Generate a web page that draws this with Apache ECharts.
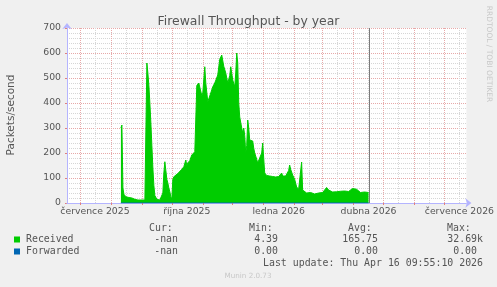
<!DOCTYPE html>
<html><head><meta charset="utf-8">
<script src="https://cdn.jsdelivr.net/npm/echarts@6/dist/echarts.min.js"></script>
<style>html,body{margin:0;padding:0;background:#f0f0f0}#c{width:497px;height:287px}</style>
</head><body><div id="c"></div>
<script>
// ---- data ----
const dates = ['2025-08-11','2025-08-12','2025-08-13','2025-08-14','2025-08-16','2025-08-19','2025-08-22','2025-08-25','2025-08-28','2025-08-31',
'2025-09-04','2025-09-05','2025-09-06','2025-09-07','2025-09-08','2025-09-09','2025-09-10','2025-09-11','2025-09-12','2025-09-13','2025-09-14','2025-09-16','2025-09-19','2025-09-21','2025-09-22','2025-09-23','2025-09-24','2025-09-25','2025-09-26','2025-09-27','2025-09-28','2025-09-29','2025-09-30',
'2025-10-01','2025-10-02','2025-10-03','2025-10-05','2025-10-07','2025-10-09','2025-10-11','2025-10-13','2025-10-15','2025-10-16','2025-10-17','2025-10-19','2025-10-21','2025-10-23','2025-10-24','2025-10-25','2025-10-26','2025-10-28','2025-10-29','2025-10-31',
'2025-11-01','2025-11-03','2025-11-04','2025-11-06','2025-11-07','2025-11-09','2025-11-11','2025-11-13','2025-11-16','2025-11-18','2025-11-20','2025-11-22','2025-11-24','2025-11-26','2025-11-28','2025-11-29',
'2025-12-01','2025-12-03','2025-12-04','2025-12-05','2025-12-06','2025-12-07','2025-12-08','2025-12-10','2025-12-11','2025-12-12','2025-12-13','2025-12-14','2025-12-15','2025-12-16','2025-12-17','2025-12-18','2025-12-20','2025-12-21','2025-12-22','2025-12-23','2025-12-25','2025-12-26','2025-12-28','2025-12-30','2025-12-31',
'2026-01-01','2026-01-02','2026-01-04','2026-01-07','2026-01-10','2026-01-13','2026-01-16','2026-01-18','2026-01-19','2026-01-20','2026-01-23','2026-01-25','2026-01-26','2026-01-27','2026-01-28','2026-01-30',
'2026-02-01','2026-02-03','2026-02-05','2026-02-07','2026-02-08','2026-02-09','2026-02-11','2026-02-13','2026-02-15','2026-02-17','2026-02-19','2026-02-21','2026-02-23','2026-02-25','2026-02-27',
'2026-03-01','2026-03-03','2026-03-05','2026-03-07','2026-03-09','2026-03-11','2026-03-13','2026-03-15','2026-03-17','2026-03-19','2026-03-21','2026-03-23','2026-03-25','2026-03-27','2026-03-29','2026-03-31',
'2026-04-02','2026-04-04','2026-04-06','2026-04-08','2026-04-10','2026-04-12','2026-04-14','2026-04-16'];
const received = [300,312,60,35,25,22,20,15,12,12,
12,15,560,520,470,400,320,230,140,70,30,15,12,12,40,120,165,130,95,80,60,45,25,
15,95,105,108,118,125,135,145,172,150,160,170,192,185,205,200,470,480,485,430,
440,545,480,405,400,440,465,480,512,575,592,547,520,480,510,545,
492,465,520,600,560,400,344,300,280,300,270,200,230,332,300,252,250,248,220,200,175,160,180,200,240,
180,120,110,108,106,104,106,110,120,108,108,110,130,152,135,112,
95,64,55,55,164,52,45,40,38,42,40,36,44,40,38,
42,48,62,52,50,44,48,45,50,47,45,48,44,46,50,58,
64,55,50,42,40,44,38,42];
const forwardedDates = ['2025-08-11','2026-04-16'];
const forwarded = [0, 0];

const xStart = '2025-06-18';
const xEnd = '2026-07-23';
const nowTime = '2026-04-16T09:55';
const monthStarts = ['2025-07-01','2025-08-01','2025-09-01','2025-10-01','2025-11-01','2025-12-01','2026-01-01','2026-02-01','2026-03-01','2026-04-01','2026-05-01','2026-06-01','2026-07-01'];
const midMonths = ['2025-07-16','2025-08-16','2025-09-16','2025-10-16','2025-11-16','2025-12-16','2026-01-16','2026-02-16','2026-03-16','2026-04-16','2026-05-16','2026-06-16','2026-07-16'];
const xLabelDates = ['2025-07-16','2025-10-16','2026-01-16','2026-04-16','2026-07-16'];
const xLabels = ['července 2025','října 2025','ledna 2026','dubna 2026','července 2026'];

const seriesNames = ['Received','Forwarded'];
const seriesColors = ['#00cc00','#0066b3'];
const statCur = ['-nan','-nan'];
const statMin = ['4.39','0.00'];
const statAvg = ['165.75','0.00'];
const statMax = ['32.69k','0.00'];
const lastUpdate = 'Last update: Thu Apr 16 09:55:10 2026';
const footer = 'Munin 2.0.73';
const watermark = 'RRDTOOL / TOBI OETIKER';
const titleText = 'Firewall Throughput - by year';
const yName = 'Packets/second';

// ---- helpers ----
function toTs(s) {
  const [d, t] = s.split('T');
  const [y, m, dd] = d.split('-').map(Number);
  let hh = 0, mm = 0;
  if (t) { [hh, mm] = t.split(':').map(Number); }
  return new Date(y, m - 1, dd, hh, mm).getTime();
}
const DAY = 86400000;
const labelTs = xLabelDates.map(toTs);

const chart = echarts.init(document.getElementById('c'), null, {renderer: 'canvas'});
const txt = '#555';
const mono = '"DejaVu Sans Mono", monospace';
const sans = '"DejaVu Sans", sans-serif';
const majorColor = '#e7a9a9';
const minorColor = '#d6d6d6';
const axisColor = '#b4b4ff';

const graphics = [];
function addText(x, y, text, opts) {
  graphics.push(Object.assign({type: 'text', x: x, y: y, silent: true,
    style: Object.assign({text: text, fill: txt, font: '9.9px ' + mono, textVerticalAlign: 'middle'}, opts || {})}));
}
graphics.push({type: 'text', x: 11, y: 115, rotation: Math.PI / 2, silent: true,
  style: {text: yName, fill: txt, font: '10.5px ' + sans, textAlign: 'center', textVerticalAlign: 'middle'}});
graphics.push({type: 'text', x: 489, y: 54, rotation: -Math.PI / 2, silent: true,
  style: {text: watermark, fill: '#c8c8c8', font: '7.5px ' + sans, textAlign: 'center', textVerticalAlign: 'middle'}});
addText(149, 228.5, 'Cur:');
addText(249, 228.5, 'Min:');
addText(348, 228.5, 'Avg:');
addText(447, 228.5, 'Max:');
const rowY = [239.5, 251.5];
const maxRight = [483, 477];
seriesNames.forEach((n, i) => {
  graphics.push({type: 'rect', silent: true, shape: {x: 14, y: rowY[i] - 3, width: 6, height: 6}, style: {fill: seriesColors[i]}});
  addText(26, rowY[i], n);
  addText(178, rowY[i], statCur[i], {textAlign: 'right'});
  addText(278, rowY[i], statMin[i], {textAlign: 'right'});
  addText(378, rowY[i], statAvg[i], {textAlign: 'right'});
  addText(maxRight[i], rowY[i], statMax[i], {textAlign: 'right'});
});
addText(483, 263.5, lastUpdate, {textAlign: 'right'});
graphics.push({type: 'text', x: 248, y: 276, silent: true,
  style: {text: footer, fill: '#c8c8c8', font: '7.2px ' + sans, textAlign: 'center', textVerticalAlign: 'middle'}});

const option = {
  animation: false,
  backgroundColor: '#f0f0f0',
  title: {text: titleText, left: 'center', top: 11,
    textStyle: {color: txt, fontSize: 12.4, fontWeight: 'normal', fontFamily: sans}},
  grid: {left: 67, top: 28, width: 400, height: 175, show: true, backgroundColor: '#ffffff', borderWidth: 0, containLabel: false},
  xAxis: [{
    type: 'value', min: toTs(xStart), max: toTs(xEnd), position: 'bottom',
    axisLine: {show: true, lineStyle: {color: axisColor, width: 1}, symbol: ['none', 'arrow'], symbolSize: [7, 6], symbolOffset: [0, 5]},
    axisTick: {show: true, customValues: monthStarts.map(toTs), length: 2, lineStyle: {color: '#e08080'}},
    axisLabel: {show: true, customValues: labelTs, color: txt, fontSize: 9.3, fontFamily: sans, margin: 4,
      formatter: function (v) {
        for (let i = 0; i < labelTs.length; i++) if (Math.abs(labelTs[i] - v) < DAY / 2) return xLabels[i];
        return '';
      }},
    splitLine: {show: true, lineStyle: {color: majorColor, width: 1, type: [1, 1]}},
    z: 1
  }, {
    type: 'value', min: toTs(xStart), max: toTs(xEnd), position: 'top',
    axisLine: {show: false}, axisLabel: {show: false},
    axisTick: {show: false, customValues: midMonths.map(toTs)},
    splitLine: {show: true, lineStyle: {color: minorColor, width: 1, type: [1, 1]}},
    z: 0
  }],
  yAxis: {
    type: 'value', min: 0, max: 700, interval: 100,
    axisLine: {show: true, lineStyle: {color: axisColor, width: 1}, symbol: ['none', 'arrow'], symbolSize: [7, 6], symbolOffset: [0, 5]},
    axisTick: {show: true, length: 2, lineStyle: {color: '#e08080'}},
    axisLabel: {color: txt, fontSize: 9.3, fontFamily: sans, margin: 6},
    splitLine: {show: true, lineStyle: {color: majorColor, width: 1, type: [1, 1]}},
    minorTick: {show: false, splitNumber: 5},
    minorSplitLine: {show: true, lineStyle: {color: minorColor, width: 1, type: [1, 1]}}
  },
  series: [{
    name: seriesNames[0], type: 'line', xAxisIndex: 0,
    data: dates.map((d, i) => [toTs(d), received[i]]),
    showSymbol: false, symbol: 'none',
    lineStyle: {width: 1, color: seriesColors[0]},
    itemStyle: {color: seriesColors[0]},
    areaStyle: {color: seriesColors[0], opacity: 1},
    z: 3,
    markLine: {silent: true, symbol: ['none', 'none'], label: {show: false},
      lineStyle: {color: '#7a7a7a', width: 1, type: 'solid'},
      data: [{xAxis: toTs(nowTime)}]}
  }, {
    name: seriesNames[1], type: 'line', xAxisIndex: 0,
    data: forwardedDates.map((d, i) => [toTs(d), forwarded[i]]),
    showSymbol: false, symbol: 'none',
    lineStyle: {width: 1, color: seriesColors[1]},
    itemStyle: {color: seriesColors[1]},
    z: 4
  }],
  graphic: graphics
};
chart.setOption(option);
</script>
</body></html>
